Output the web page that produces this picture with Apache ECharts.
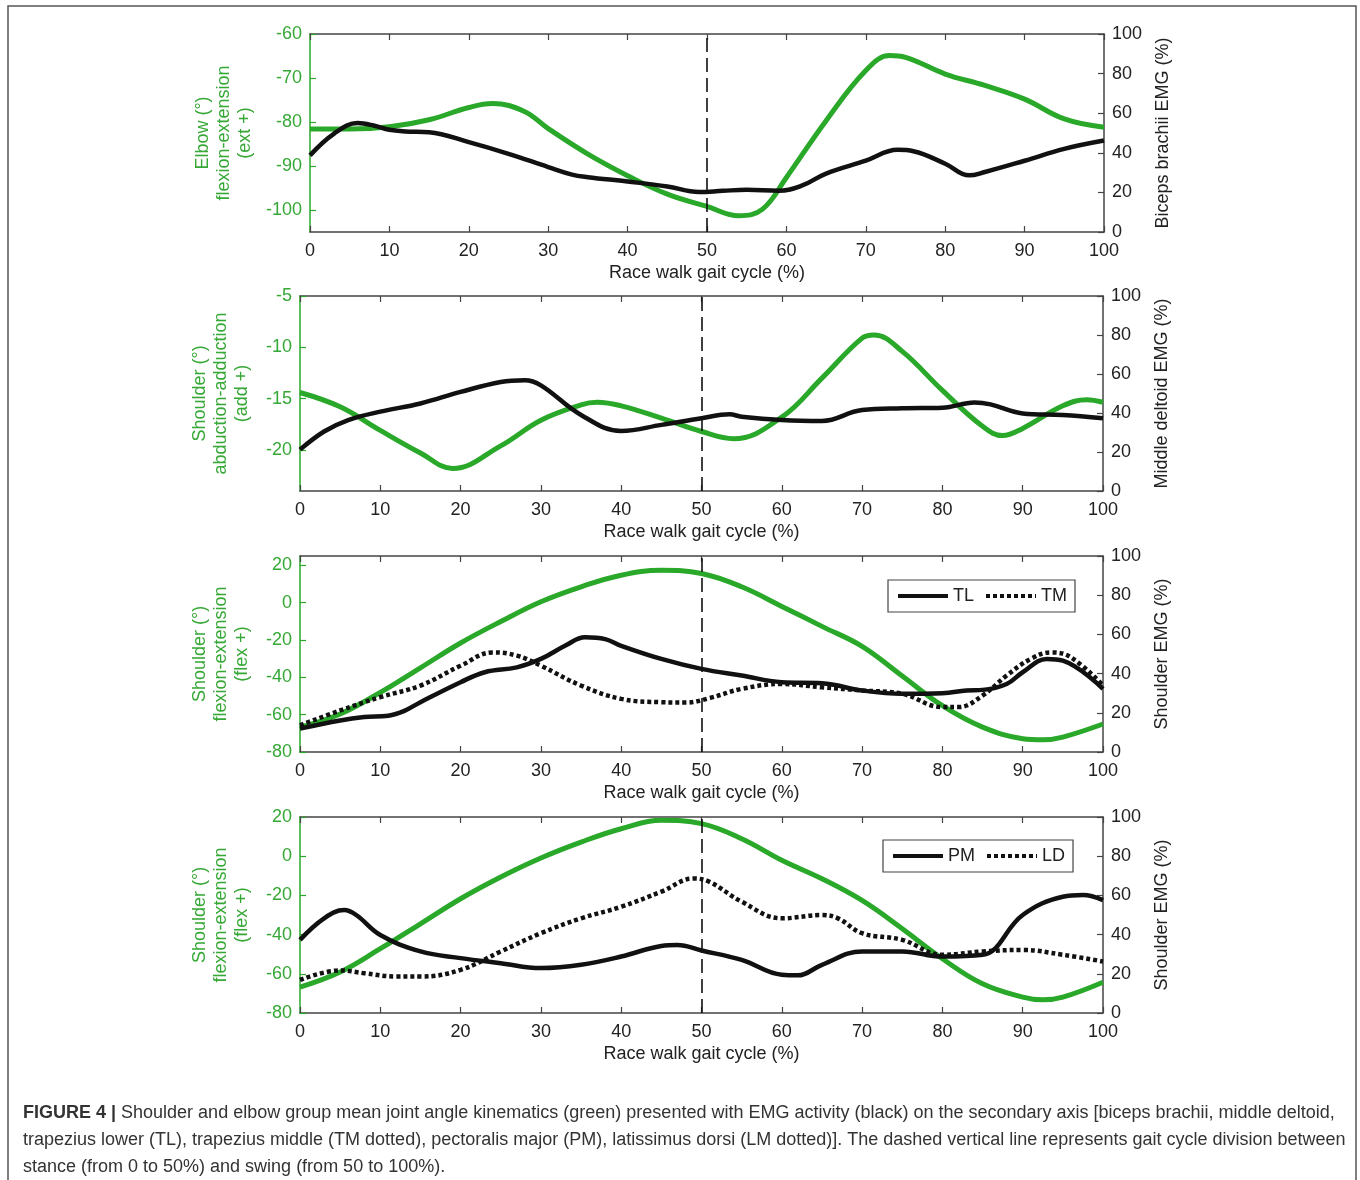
<!DOCTYPE html>
<html>
<head>
<meta charset="utf-8">
<script src="https://cdn.jsdelivr.net/npm/echarts@6/dist/echarts.min.js"></script>
<style>
html,body{margin:0;padding:0;background:#fff;}
#chart{width:1360px;height:1180px;}
</style>
</head>
<body>
<div id="chart"></div>
<script>
// ---------- DATA ----------
const gaitTicks = [0, 10, 20, 30, 40, 50, 60, 70, 80, 90, 100];
const stanceSwingSplit = 50;

// Panel 1: elbow flexion-extension & biceps brachii EMG
const elbowX = [0,5,10,15,20,23,27,30,35,40,45,50,54,57,60,65,70,73,75,80,85,90,95,100];
const elbowAngle = [-81.6,-81.6,-81.1,-79.5,-76.7,-75.8,-77.6,-81.5,-87.3,-92.2,-96.4,-99.2,-101.3,-99.8,-92.6,-79.7,-68.3,-64.9,-65.3,-69.1,-71.7,-74.8,-79.3,-81.2];
const bicepsX = [0,3,6,8,10,12,15,20,25,30,33,35,40,45,49,52,55,59,62,65,70,74,76,80,83,85,90,95,100];
const bicepsEmg = [38.7,49.6,55,53.8,51.6,50.8,50.4,45.4,39.5,32.8,29,27.7,25.5,23,20.2,20.8,21.3,20.8,23.5,29.5,36,41.5,40.8,34.5,28.6,30.3,36,42,46.2];

// Panel 2: shoulder abduction-adduction & middle deltoid EMG
const abdX = [0,5,10,15,19,25,30,35,37,40,45,50,54,60,65,70,71.5,75,80,85,87.5,90,95,98,100];
const abdAngle = [-14.4,-15.8,-18.1,-20.3,-21.8,-19.6,-17.1,-15.6,-15.35,-15.7,-16.9,-18.2,-18.9,-16.8,-13,-9.1,-8.8,-10.4,-14.2,-17.7,-18.6,-17.9,-15.7,-15.1,-15.35];
const deltoidX = [0,3,6,10,15,20,25,28,30,35,40,45,50,53.5,55,60,65,70,75,80,84,86,90,95,100];
const deltoidEmg = [21.2,30.5,36.4,40.7,44.9,50.8,55.9,56.8,54.2,39,30.8,33.9,37.3,39.3,38.1,36.4,35.9,41.5,42.4,42.7,45.4,44.4,39.8,39,37.3];

// Panel 3: shoulder flexion-extension & trapezius EMG (TL, TM)
const flexAX = [0,5,10,15,20,25,30,35,40,45,50,55,60,65,70,75,80,85,90,92.5,95,100];
const flexAAngle = [-66.7,-59.6,-48.1,-34.9,-21.6,-10.1,0.5,8.5,14.7,17.3,15.6,8.5,-2,-12.7,-23.4,-39.3,-55.2,-66.7,-72.9,-73.5,-72,-65];
const tlX = [0,5,8,11,13,15,20,23,27,30,33,35.5,38,40,45,50,55,60,65,70,75,80,83,85,88,90,93,95,100];
const tlEmg = [11.9,16.1,17.8,18.5,21,25.4,35.6,40.7,43.2,47.5,54.2,58.5,57.6,54.2,47.5,42.4,39,35.6,35.1,31.4,29.7,30,31.4,31.7,34.7,40.7,47.5,46.6,32.2];
const tmX = [0,5,10,15,20,24,27,30,35,40,45,48,51,55,60,65,70,75,80,82,85,88,91,93.5,96,100];
const tmEmg = [13.6,21.2,28,33.9,44,50.8,49.2,44,33.9,27.1,25.4,25.2,27.5,32.2,34.7,33,31.4,29.7,22.9,22.9,28.8,39,47.5,50.8,48.3,33.9];

// Panel 4: shoulder flexion-extension & PM / LD EMG
const flexBX = [0,5,10,15,20,25,30,35,40,45,50,55,60,65,70,75,80,85,90,92.5,95,100];
const flexBAngle = [-66.8,-59.1,-47.2,-34.5,-21.7,-10.6,-0.9,7.2,14,18.3,16.6,8.9,-2.1,-11.5,-22.6,-37,-52.3,-65.1,-71.9,-73.3,-71.9,-64.3];
const pmX = [0,3,5.5,7,10,15,20,25,30,35,40,45,47,50,55,60,62,65,70,75,80,85,90,95,97.5,100];
const pmEmg = [37.3,48.3,52.5,50,39.8,31.4,28,25.4,22.9,24.6,28.8,34.2,34.7,31.9,27.1,19.5,19.2,24.6,31.4,31.4,28.8,29.7,50,59.3,60.2,57.6];
const ldX = [0,5,8,12,15,20,25,30,35,40,45,49,51,55,60,65,67,70,75,80,85,90,95,100];
const ldEmg = [16.9,21.7,20.3,18.6,18.6,22,31.4,40.7,48.3,54.2,61.9,68.6,66.9,56.8,48.3,50,48.3,40.7,37.3,29.7,31.4,32.2,29.7,26.3];

// Axis ranges / tick labels
const leftRanges = [[-105,-60],[-24,-5],[-80,25],[-80,20]];
const leftTicks = [[-100,-90,-80,-70,-60],[-20,-15,-10,-5],[-80,-60,-40,-20,0,20],[-80,-60,-40,-20,0,20]];
const leftNames = ['Elbow (°)\nflexion-extension\n(ext +)','Shoulder (°)\nabduction-adduction\n(add +)','Shoulder (°)\nflexion-extension\n(flex +)','Shoulder (°)\nflexion-extension\n(flex +)'];
const rightNames = ['Biceps brachii EMG (%)','Middle deltoid EMG (%)','Shoulder EMG (%)','Shoulder EMG (%)'];
const xName = 'Race walk gait cycle (%)';
const caption = '{b|FIGURE 4 |} Shoulder and elbow group mean joint angle kinematics (green) presented with EMG activity (black) on the secondary axis [biceps brachii, middle deltoid,\ntrapezius lower (TL), trapezius middle (TM dotted), pectoralis major (PM), latissimus dorsi (LM dotted)]. The dashed vertical line represents gait cycle division between\nstance (from 0 to 50%) and swing (from 50 to 100%).';

// ---------- STYLE ----------
const GREEN = '#29a829';
const GTXT = '#36a836';
const AX = '#444';
const TXT = '#222';
const FONT = '"Liberation Sans", Arial, Helvetica, sans-serif';
const DOT = [4, 3];
const zip = (xs, ys) => xs.map((x, i) => [x, ys[i]]);

const grids = [
  {left: 310, right: 256, top: 34, height: 198},
  {left: 300, right: 257, top: 296, height: 195},
  {left: 300, right: 257, top: 556, height: 196},
  {left: 300, right: 257, top: 817, height: 196}
];

const xAxes = [], yAxes = [];
grids.forEach((g, i) => {
  xAxes.push({
    gridIndex: i, type: 'value', position: 'bottom', min: gaitTicks[0], max: gaitTicks[gaitTicks.length-1], interval: 10,
    axisLine: {show: true, onZero: false, lineStyle: {color: AX, width: 1.5}},
    axisTick: {show: true, inside: true, length: 6, lineStyle: {color: AX, width: 1.2}},
    axisLabel: {color: TXT, fontSize: 18, fontFamily: FONT, margin: 10},
    splitLine: {show: false},
    name: xName, nameLocation: 'middle', nameGap: 32,
    nameTextStyle: {color: TXT, fontSize: 18, fontFamily: FONT}
  });
  xAxes.push({
    gridIndex: i, type: 'value', position: 'top', min: 0, max: 100, interval: 10,
    axisLine: {show: true, onZero: false, lineStyle: {color: AX, width: 1.5}},
    axisTick: {show: true, inside: true, length: 6, lineStyle: {color: AX, width: 1.2}},
    axisLabel: {show: false}, splitLine: {show: false}
  });
  yAxes.push({
    gridIndex: i, type: 'value', position: 'left', min: leftRanges[i][0], max: leftRanges[i][1],
    axisLine: {show: true, onZero: false, lineStyle: {color: GREEN, width: 1.5}},
    axisTick: {show: true, inside: true, length: 6, customValues: leftTicks[i], lineStyle: {color: GREEN, width: 1.2}},
    axisLabel: {customValues: leftTicks[i], color: GTXT, fontSize: 18, fontFamily: FONT, margin: 8},
    splitLine: {show: false},
    name: leftNames[i], nameLocation: 'middle', nameRotate: 90, nameGap: 47,
    nameTextStyle: {color: GTXT, fontSize: 18, fontFamily: FONT, lineHeight: 21}
  });
  yAxes.push({
    gridIndex: i, type: 'value', position: 'right', min: 0, max: 100, interval: 20,
    axisLine: {show: true, onZero: false, lineStyle: {color: AX, width: 1.5}},
    axisTick: {show: true, inside: true, length: 6, lineStyle: {color: AX, width: 1.2}},
    axisLabel: {color: TXT, fontSize: 18, fontFamily: FONT, margin: 8},
    splitLine: {show: false},
    name: rightNames[i], nameLocation: 'middle', nameRotate: 90, nameGap: 50,
    nameTextStyle: {color: TXT, fontSize: 18, fontFamily: FONT}
  });
});

function greenSeries(name, i, xs, ys) {
  return {
    name, type: 'line', xAxisIndex: i*2, yAxisIndex: i*2, data: zip(xs, ys),
    smooth: 0.4, symbol: 'none', z: 2,
    lineStyle: {color: GREEN, width: 5},
    markLine: {
      silent: true, symbol: ['none','none'], label: {show: false},
      lineStyle: {color: '#111', width: 1.6, type: [14, 6]},
      data: [{xAxis: stanceSwingSplit}]
    }
  };
}
function blackSeries(name, i, xs, ys, dotted) {
  return {
    name, type: 'line', xAxisIndex: i*2, yAxisIndex: i*2+1, data: zip(xs, ys),
    smooth: 0.4, symbol: 'none', z: 3,
    lineStyle: {color: '#111', width: 4.5, type: dotted ? DOT : 'solid', cap: 'butt'}
  };
}

const series = [
  greenSeries('Elbow angle', 0, elbowX, elbowAngle),
  blackSeries('Biceps brachii', 0, bicepsX, bicepsEmg),
  greenSeries('Shoulder abd-add', 1, abdX, abdAngle),
  blackSeries('Middle deltoid', 1, deltoidX, deltoidEmg),
  greenSeries('Shoulder flex-ext A', 2, flexAX, flexAAngle),
  blackSeries('TL', 2, tlX, tlEmg, false),
  blackSeries('TM', 2, tmX, tmEmg, true),
  greenSeries('Shoulder flex-ext B', 3, flexBX, flexBAngle),
  blackSeries('PM', 3, pmX, pmEmg, false),
  blackSeries('LD', 3, ldX, ldEmg, true)
];

const legendBase = {
  orient: 'horizontal', padding: [7, 8, 7, 8], itemGap: 10, itemWidth: 50, itemHeight: 14,
  borderColor: '#444', borderWidth: 1.2, backgroundColor: '#fff',
  textStyle: {color: TXT, fontSize: 18, fontFamily: FONT},
  itemStyle: {opacity: 0}, selectedMode: false
};
const solidIcon = {color: '#111', width: 4, type: 'solid', cap: 'butt'};
const dotIcon = {color: '#111', width: 4, type: DOT, cap: 'butt'};

const option = {
  animation: false,
  backgroundColor: '#fff',
  title: {
    text: caption, left: 23, top: 1100, padding: 0,
    textStyle: {
      color: '#333', fontSize: 18, fontWeight: 'normal', fontFamily: FONT, lineHeight: 27,
      rich: {b: {fontWeight: 'bold', fontSize: 18, color: '#333', fontFamily: FONT, lineHeight: 27}}
    }
  },
  grid: grids,
  xAxis: xAxes,
  yAxis: yAxes,
  legend: [
    Object.assign({}, legendBase, {
      data: [{name: 'TL', lineStyle: solidIcon}, {name: 'TM', lineStyle: dotIcon}], left: 888, top: 580
    }),
    Object.assign({}, legendBase, {
      data: [{name: 'PM', lineStyle: solidIcon}, {name: 'LD', lineStyle: dotIcon}], left: 883, top: 840
    })
  ],
  graphic: [{
    type: 'rect', silent: true, z: -1,
    shape: {x: 8, y: 6, width: 1348, height: 1200},
    style: {fill: 'none', stroke: '#555', lineWidth: 1.5}
  }],
  series
};

const chart = echarts.init(document.getElementById('chart'), null, {renderer: 'canvas'});
chart.setOption(option);
</script>
</body>
</html>
